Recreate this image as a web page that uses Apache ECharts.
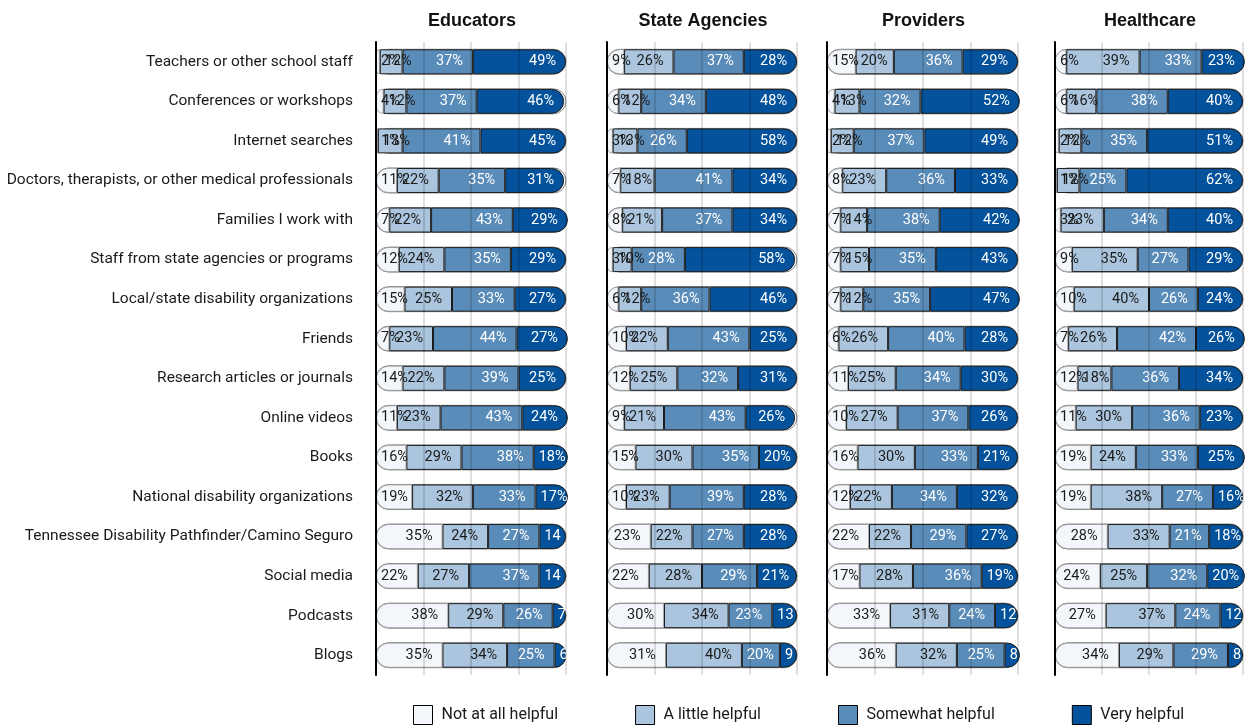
<!DOCTYPE html>
<html>
<head>
<meta charset="utf-8">
<script src="https://cdn.jsdelivr.net/npm/echarts@6/dist/echarts.min.js"></script>
<style>
  html, body { margin: 0; padding: 0; background: #ffffff; }
  #chart { width: 1250px; height: 725px; }
</style>
</head>
<body>
<div id="chart"></div>
<script>
// Information sources, top to bottom
const categories = [
  'Teachers or other school staff',
  'Conferences or workshops',
  'Internet searches',
  'Doctors, therapists, or other medical professionals',
  'Families I work with',
  'Staff from state agencies or programs',
  'Local/state disability organizations',
  'Friends',
  'Research articles or journals',
  'Online videos',
  'Books',
  'National disability organizations',
  'Tennessee Disability Pathfinder/Camino Seguro',
  'Social media',
  'Podcasts',
  'Blogs'
];

const levels = ['Not at all helpful', 'A little helpful', 'Somewhat helpful', 'Very helpful'];
const groups = ['Educators', 'State Agencies', 'Providers', 'Healthcare'];

// Percent of respondents per rating, in category order
const educatorsNot      = [2, 4, 1, 11, 7, 12, 15, 7, 14, 11, 16, 19, 35, 22, 38, 35];
const educatorsLittle   = [12, 12, 13, 22, 22, 24, 25, 23, 22, 23, 29, 32, 24, 27, 29, 34];
const educatorsSomewhat = [37, 37, 41, 35, 43, 35, 33, 44, 39, 43, 38, 33, 27, 37, 26, 25];
const educatorsVery     = [49, 46, 45, 31, 29, 29, 27, 27, 25, 24, 18, 17, 14, 14, 7, 6];

const agenciesNot      = [9, 6, 3, 7, 8, 3, 6, 10, 12, 9, 15, 10, 23, 22, 30, 31];
const agenciesLittle   = [26, 12, 13, 18, 21, 10, 12, 22, 25, 21, 30, 23, 22, 28, 34, 40];
const agenciesSomewhat = [37, 34, 26, 41, 37, 28, 36, 43, 32, 43, 35, 39, 27, 29, 23, 20];
const agenciesVery     = [28, 48, 58, 34, 34, 58, 46, 25, 31, 26, 20, 28, 28, 21, 13, 9];

const providersNot      = [15, 4, 2, 8, 7, 7, 7, 6, 11, 10, 16, 12, 22, 17, 33, 36];
const providersLittle   = [20, 13, 12, 23, 14, 15, 12, 26, 25, 27, 30, 22, 22, 28, 31, 32];
const providersSomewhat = [36, 32, 37, 36, 38, 35, 35, 40, 34, 37, 33, 34, 29, 36, 24, 25];
const providersVery     = [29, 52, 49, 33, 42, 43, 47, 28, 30, 26, 21, 32, 27, 19, 12, 8];

const healthcareNot      = [6, 6, 2, 1, 3, 9, 10, 7, 12, 11, 19, 19, 28, 24, 27, 34];
const healthcareLittle   = [39, 16, 12, 12, 23, 35, 40, 26, 18, 30, 24, 38, 33, 25, 37, 29];
const healthcareSomewhat = [33, 38, 35, 25, 34, 27, 26, 42, 36, 36, 33, 27, 21, 32, 24, 29];
const healthcareVery     = [23, 40, 51, 62, 40, 29, 24, 26, 34, 23, 25, 16, 18, 20, 12, 8];

const groupData = [
  [educatorsNot, educatorsLittle, educatorsSomewhat, educatorsVery],
  [agenciesNot, agenciesLittle, agenciesSomewhat, agenciesVery],
  [providersNot, providersLittle, providersSomewhat, providersVery],
  [healthcareNot, healthcareLittle, healthcareSomewhat, healthcareVery]
];

// Panel geometry
const panelLeft = [376, 607, 827, 1055];
const panelWidth = [190, 190, 191, 188];
const gridTop = 42;
const gridHeight = 633;
const barW = 25;
const R = 12.5;

const FONT = "Roboto, 'Liberation Sans', sans-serif";
const TITLE_FONT = "'Liberation Sans', Arial, sans-serif";

const fills = ['#f3f6fa', '#aac5dd', '#5a8cba', '#03529b'];
const borders = ['#8a8a8a', '#1c1c1c', '#1c1c1c', '#1c1c1c'];
const textColors = ['#1a1a1a', '#1a1a1a', '#ffffff', '#ffffff'];
const labelSize = 14.5;

// Put a value label at the right end of its segment, unless the segment is too
// narrow, in which case it starts just inside the segment's left edge.
// Labels that would run past the panel's right edge are cut there.
function itemLabel(v, start, pxPerUnit, panelW) {
  const w = v * pxPerUnit;
  const textW = String(v).length * 8.2 + 10.5;
  const fits = w - 15 >= textW;
  const lab = {
    position: fits ? 'insideRight' : 'insideLeft',
    distance: fits ? 10 : 5
  };
  if (!fits) {
    const room = panelW + 5 - (start * pxPerUnit + 5);
    if (room < textW) {
      lab.width = Math.max(room, 10);
      lab.overflow = 'truncate';
      lab.ellipsis = '';
    }
  }
  return lab;
}

const grid = [], xAxis = [], yAxis = [], series = [], title = [];

groups.forEach((g, gi) => {
  grid.push({
    left: panelLeft[gi], width: panelWidth[gi], top: gridTop, height: gridHeight,
    containLabel: false, outerBoundsMode: 'none'
  });

  title.push({
    text: g,
    left: panelLeft[gi] + panelWidth[gi] / 2 - 4,
    top: 7,
    textAlign: 'center',
    textStyle: { fontFamily: TITLE_FONT, fontSize: 18, fontWeight: 'bold', color: '#111' }
  });

  xAxis.push({
    gridIndex: gi, type: 'value', min: 0, max: 100, interval: 25, z: 5,
    axisLabel: { show: false }, axisLine: { show: false }, axisTick: { show: false },
    splitLine: { show: true, lineStyle: { color: 'rgba(0,0,0,0.17)', width: 1.5 } }
  });

  yAxis.push({
    gridIndex: gi, type: 'category', data: categories, inverse: true, z: 6,
    axisLine: { show: true, lineStyle: { color: '#000', width: 2 } },
    axisTick: { show: false },
    splitLine: { show: false },
    axisLabel: {
      show: gi === 0, margin: 23, color: '#1a1a1a',
      fontFamily: FONT, fontSize: 15.5
    }
  });

  const pxPerUnit = panelWidth[gi] / 100;
  const rows = groupData[gi];

  levels.forEach((lv, li) => {
    const vals = rows[li];
    const radius = li === 0 ? [R, 0, 0, R] : (li === 3 ? [0, R, R, 0] : 0);
    series.push({
      name: lv,
      type: 'bar',
      xAxisIndex: gi,
      yAxisIndex: gi,
      stack: 'panel' + gi,
      barWidth: barW,
      clip: false,
      showBackground: li === 0,
      backgroundStyle: {
        color: fills[0], borderColor: '#8a8a8a', borderWidth: 1, borderRadius: R
      },
      itemStyle: {
        color: fills[li], borderColor: borders[li], borderWidth: li === 0 ? 0.8 : 1,
        borderRadius: radius
      },
      label: {
        show: true,
        formatter: '{c}%',
        color: textColors[li],
        fontFamily: FONT,
        fontSize: labelSize
      },
      emphasis: { disabled: true },
      data: vals.map((v, ri) => {
        let start = 0;
        for (let k = 0; k < li; k++) start += rows[k][ri];
        return { value: v, label: itemLabel(v, start, pxPerUnit, panelWidth[gi]) };
      })
    });
  });
});

const chart = echarts.init(document.getElementById('chart'), null, { renderer: 'canvas' });
chart.setOption({
  animation: false,
  backgroundColor: '#ffffff',
  title,
  grid,
  xAxis,
  yAxis,
  series,
  legend: {
    data: levels,
    left: 408,
    top: 700,
    width: 840,
    itemWidth: 19,
    itemHeight: 19,
    itemGap: 77,
    icon: 'rect',
    selectedMode: false,
    itemStyle: { borderColor: '#000', borderWidth: 1 },
    textStyle: { fontFamily: FONT, fontSize: 16, color: '#1a1a1a', padding: [0, 0, 0, 4] }
  }
});
</script>
</body>
</html>
